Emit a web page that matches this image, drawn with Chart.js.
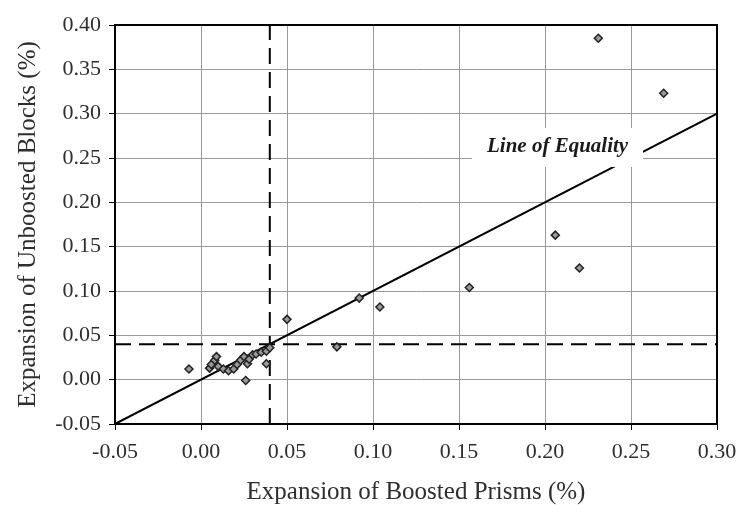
<!DOCTYPE html>
<html>
<head>
<meta charset="utf-8">
<script src="https://cdn.jsdelivr.net/npm/chart.js@4.4.0/dist/chart.umd.min.js"></script>
<style>
html,body{margin:0;padding:0;background:#fff;}
#wrap{width:736px;height:505px;}
</style>
</head>
<body>
<div id="wrap"><canvas id="c" width="736" height="505"></canvas></div>
<script>
// Data
const boostedPrisms = [
  -0.007, 0.005, 0.006, 0.008, 0.009, 0.010, 0.013, 0.016, 0.019, 0.021,
  0.023, 0.025, 0.026, 0.027, 0.028, 0.030, 0.032, 0.035, 0.038, 0.038,
  0.040, 0.050, 0.079, 0.092, 0.104, 0.156, 0.206, 0.220, 0.231, 0.269
];
const unboostedBlocks = [
  0.012, 0.013, 0.017, 0.022, 0.026, 0.015, 0.012, 0.010, 0.012, 0.017,
  0.022, 0.026, -0.001, 0.018, 0.023, 0.028, 0.029, 0.031, 0.032, 0.018,
  0.036, 0.068, 0.037, 0.092, 0.082, 0.104, 0.163, 0.126, 0.385, 0.323
];
const equalityX = [-0.05, 0.30];
const limitValue = 0.04;
const xTicks = [-0.05, 0.00, 0.05, 0.10, 0.15, 0.20, 0.25, 0.30];
const yTicks = [-0.05, 0.00, 0.05, 0.10, 0.15, 0.20, 0.25, 0.30, 0.35, 0.40];
const labelText = 'Line of Equality';
const labelBox = {x0: 0.1576, x1: 0.2570, y0: 0.2399, y1: 0.2838};

const points = boostedPrisms.map((x, i) => ({x, y: unboostedBlocks[i]}));
const eqLine = equalityX.map(v => ({x: v, y: v}));
const vLine = [{x: limitValue, y: yTicks[0]}, {x: limitValue, y: yTicks[yTicks.length - 1]}];
const hLine = [{x: xTicks[0], y: limitValue}, {x: xTicks[xTicks.length - 1], y: limitValue}];

const serif = '"Liberation Serif", "DejaVu Serif", serif';
const txt = '#2e2e2e';

const overlay = {
  id: 'overlay',
  afterDatasetsDraw(chart) {
    const {ctx, chartArea: a, scales: {x, y}} = chart;
    ctx.save();
    const bx0 = x.getPixelForValue(labelBox.x0), bx1 = x.getPixelForValue(labelBox.x1);
    const by0 = y.getPixelForValue(labelBox.y1), by1 = y.getPixelForValue(labelBox.y0);
    ctx.fillStyle = '#fff';
    ctx.fillRect(bx0, by0, bx1 - bx0, by1 - by0);
    ctx.fillStyle = '#1a1a1a';
    ctx.font = 'italic bold 21px ' + serif;
    ctx.textAlign = 'center';
    ctx.textBaseline = 'middle';
    ctx.fillText(labelText, (bx0 + bx1) / 2, (by0 + by1) / 2 - 1);
    ctx.strokeStyle = '#000';
    ctx.lineWidth = 2;
    ctx.strokeRect(a.left, a.top, a.right - a.left, a.bottom - a.top);
    ctx.restore();
  }
};

new Chart(document.getElementById('c'), {
  type: 'scatter',
  data: {
    datasets: [
      {
        data: points,
        pointStyle: 'rectRot',
        pointRadius: 4,
        pointBorderWidth: 1.5,
        pointBorderColor: '#222',
        pointBackgroundColor: '#999',
        showLine: false,
        order: 0
      },
      {
        data: eqLine, showLine: true, borderColor: '#000', borderWidth: 2,
        pointRadius: 0, order: 1
      },
      {
        data: vLine, showLine: true, borderColor: '#000', borderWidth: 2,
        borderDash: [16, 8], pointRadius: 0, order: 1
      },
      {
        data: hLine, showLine: true, borderColor: '#000', borderWidth: 2,
        borderDash: [16, 8], pointRadius: 0, order: 1
      }
    ]
  },
  options: {
    responsive: false,
    animation: false,
    layout: {padding: {top: 25, right: 19, left: 0, bottom: 0}},
    plugins: {legend: {display: false}, tooltip: {enabled: false}},
    scales: {
      x: {
        type: 'linear', min: xTicks[0], max: xTicks[xTicks.length - 1],
        afterBuildTicks: s => { s.ticks = xTicks.map(v => ({value: v})); },
        afterFit: s => { s.height = 81; s.paddingRight = 0; s.paddingLeft = 0; },
        grid: {color: '#9a9a9a', lineWidth: 1, tickColor: '#000', tickLength: 6, drawTicks: true},
        border: {color: '#000', width: 2},
        ticks: {
          color: txt, font: {family: serif, size: 22}, padding: 9, maxRotation: 0,
          callback: v => v.toFixed(2)
        },
        title: {display: true, text: 'Expansion of Boosted Prisms (%)', color: txt,
          font: {family: serif, size: 25, lineHeight: 1.0}, padding: {top: 0, bottom: 0}}
      },
      y: {
        type: 'linear', min: yTicks[0], max: yTicks[yTicks.length - 1],
        afterBuildTicks: s => { s.ticks = yTicks.map(v => ({value: v})); },
        afterFit: s => { s.width = 115; },
        grid: {color: '#9a9a9a', lineWidth: 1, tickColor: '#000', tickLength: 6, drawTicks: true},
        border: {color: '#000', width: 2},
        ticks: {
          color: txt, font: {family: serif, size: 22}, padding: 8,
          callback: v => v.toFixed(2)
        },
        title: {display: true, text: 'Expansion of Unboosted Blocks (%)', color: txt,
          font: {family: serif, size: 25, lineHeight: 1.0}, padding: {top: 16, bottom: 0}}
      }
    }
  },
  plugins: [overlay]
});
</script>
</body>
</html>
